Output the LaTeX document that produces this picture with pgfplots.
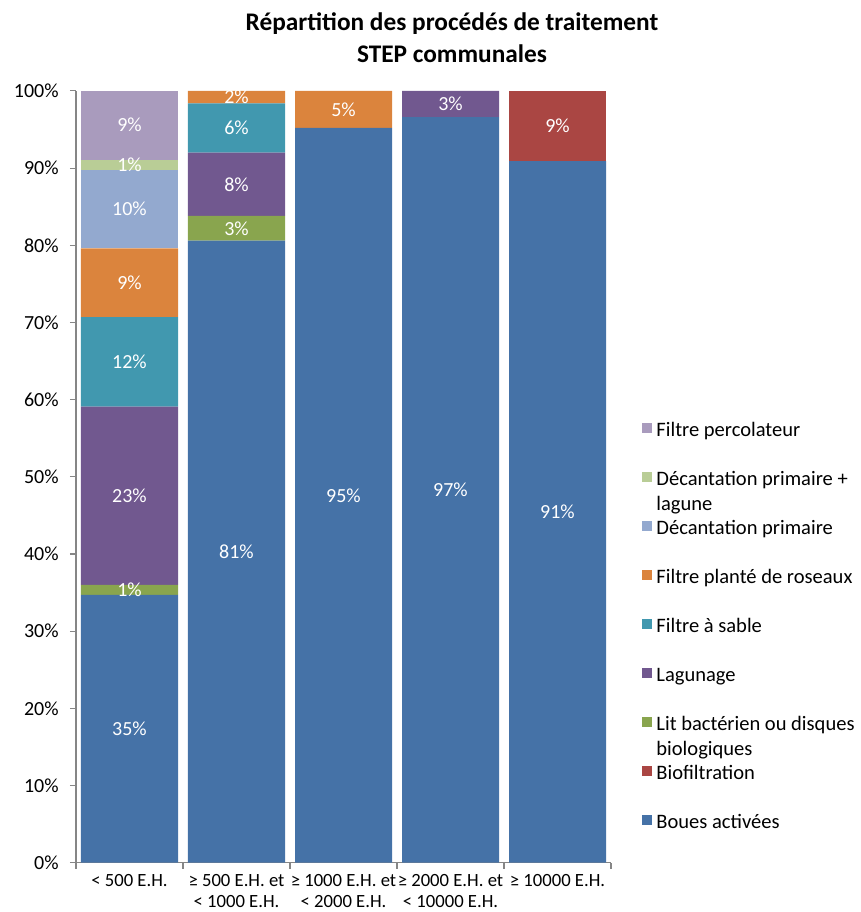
\documentclass[border=0pt]{standalone}
\usepackage{pgfplots}
\pgfplotsset{compat=1.18}
\usepackage{fontspec}
\setmainfont{Carlito}
\definecolor{cBoues}{HTML}{4572A7}
\definecolor{cBio}{HTML}{AA4643}
\definecolor{cLit}{HTML}{89A54E}
\definecolor{cLag}{HTML}{71588F}
\definecolor{cSable}{HTML}{4198AF}
\definecolor{cPlante}{HTML}{DB843D}
\definecolor{cDP}{HTML}{93A9CF}
\definecolor{cDPL}{HTML}{B9CD96}
\definecolor{cPerco}{HTML}{A99BBD}
\definecolor{axisgray}{HTML}{868686}
\begin{document}
\begin{tikzpicture}
\begin{axis}[
  at={(0,0)}, anchor=south west,
  scale only axis, width=401.25pt, height=578.8pt,
  ybar stacked, bar width=72.75pt,
  xmin=-0.5, xmax=4.5, ymin=0, ymax=100,
  xtick={-0.5,0.5,1.5,2.5,3.5,4.5},
  x tick label as interval,
  xticklabels={{< 500 E.H.},{≥ 500 E.H. et\\< 1000 E.H.},{≥ 1000 E.H. et\\< 2000 E.H.},{≥ 2000 E.H. et\\< 10000 E.H.},{≥ 10000 E.H.}},
  xticklabel style={align=center, font=\fontsize{14}{15.5}\selectfont, yshift=-1pt},
  ytick={0,10,...,100},
  yticklabel={\pgfmathprintnumber{\tick}\%},
  yticklabel style={font=\fontsize{15}{18}\selectfont, xshift=-5pt},
  /pgf/number format/assume math mode=true,
  axis lines*=left,
  axis line style={draw=axisgray, line width=0.8pt},
  tick align=outside, major tick length=4.5pt,
  tick style={draw=axisgray, line width=0.8pt},
  every axis plot/.append style={draw=none},
  nodes near coords={\pgfmathprintnumber[fixed,precision=0]{\pgfplotspointmeta}\%},
  every node near coord/.style={
    check for zero/.code={\pgfmathfloatifflags{\pgfplotspointmeta}{0}{\pgfkeys{/tikz/coordinate}}{}},
    check for zero,
    anchor=center,
    text=white, font=\fontsize{15}{18}\selectfont
  },
  reverse legend,
  legend cell align=left,
  legend image code/.code={\fill[#1,draw=none] (0pt,-0.5pt) rectangle (7.5pt,7pt);},
  legend style={
    at={(axis description cs:1.057,0.5715)}, anchor=north west,
    draw=none, fill=none, inner sep=0pt,
    row sep=21.75pt,
    font=\fontsize{15.4}{18.75}\selectfont,
    nodes={inner xsep=3.5pt, inner ysep=0pt, text height=11pt, text depth=4pt},
  },
]
\addplot[fill=cBoues, draw=none] coordinates {(0,34.7) (1,80.6) (2,95.2) (3,96.6) (4,90.9)};
\addlegendentry{Boues activées}
\addplot[fill=cBio, draw=none] coordinates {(0,0) (1,0) (2,0) (3,0) (4,9.1)};
\addlegendentry{Biofiltration}
\addplot[fill=cLit, draw=none] coordinates {(0,1.3) (1,3.2) (2,0) (3,0) (4,0)};
\addlegendentry{\smash{\parbox[t]{150pt}{Lit bactérien ou disques\\biologiques}}}
\addplot[fill=cLag, draw=none] coordinates {(0,23.1) (1,8.2) (2,0) (3,3.4) (4,0)};
\addlegendentry{Lagunage}
\addplot[fill=cSable, draw=none] coordinates {(0,11.6) (1,6.4) (2,0) (3,0) (4,0)};
\addlegendentry{Filtre à sable}
\addplot[fill=cPlante, draw=none] coordinates {(0,8.9) (1,1.6) (2,4.8) (3,0) (4,0)};
\addlegendentry{Filtre planté de roseaux}
\addplot[fill=cDP, draw=none] coordinates {(0,10.2) (1,0) (2,0) (3,0) (4,0)};
\addlegendentry{Décantation primaire}
\addplot[fill=cDPL, draw=none] coordinates {(0,1.3) (1,0) (2,0) (3,0) (4,0)};
\addlegendentry{\smash{\parbox[t]{150pt}{Décantation primaire +\\lagune}}}
\addplot[fill=cPerco, draw=none] coordinates {(0,8.9) (1,0) (2,0) (3,0) (4,0)};
\addlegendentry{Filtre percolateur}
\end{axis}
\node[align=center, font=\bfseries\fontsize{19}{24}\selectfont, anchor=center] at (282pt,618.5pt) {Répartition des procédés de traitement\\STEP communales};
\pgfresetboundingbox
\useasboundingbox (-57pt,-37pt) rectangle (588pt,647pt);
\end{tikzpicture}
\end{document}
